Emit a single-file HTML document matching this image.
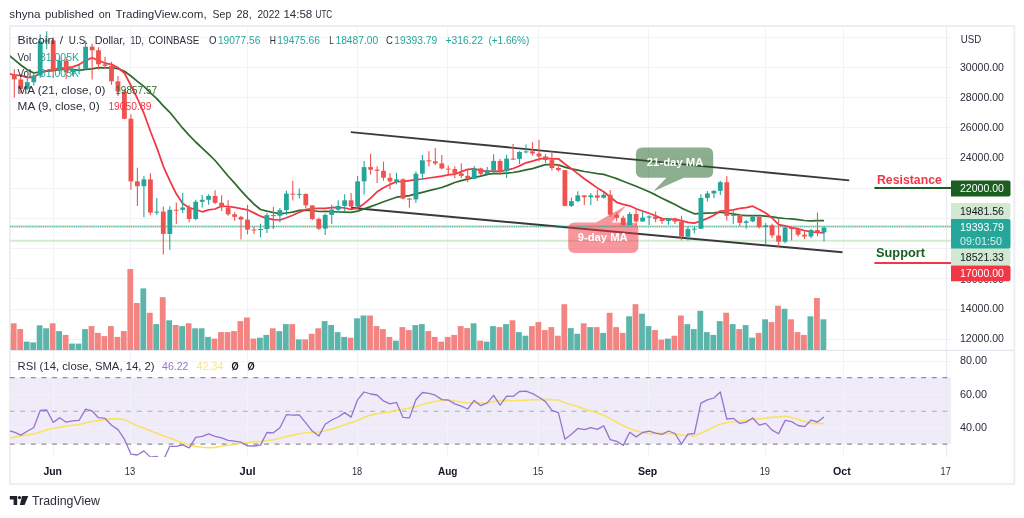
<!DOCTYPE html>
<html lang="en"><head><meta charset="utf-8"><title>BTCUSD chart</title>
<style>html,body{margin:0;padding:0;background:#fff}body{width:1024px;height:518px;overflow:hidden}svg{display:block}</style>
</head><body>
<svg width="1024" height="518" viewBox="0 0 1024 518" font-family='"Liberation Sans", sans-serif'>
<rect width="1024" height="518" fill="#fff"/>
<defs><clipPath id="cm"><rect x="10" y="27" width="937" height="323"/></clipPath><clipPath id="cr"><rect x="10" y="351" width="941" height="106"/></clipPath></defs>
<rect x="10" y="377.5" width="941" height="66.6" fill="#efebf9"/>
<line x1="53.5" y1="27" x2="53.5" y2="457" stroke="#f1f3f6" stroke-width="1"/>
<line x1="130.5" y1="27" x2="130.5" y2="457" stroke="#f1f3f6" stroke-width="1"/>
<line x1="247.5" y1="27" x2="247.5" y2="457" stroke="#f1f3f6" stroke-width="1"/>
<line x1="357.5" y1="27" x2="357.5" y2="457" stroke="#f1f3f6" stroke-width="1"/>
<line x1="447.5" y1="27" x2="447.5" y2="457" stroke="#f1f3f6" stroke-width="1"/>
<line x1="538.5" y1="27" x2="538.5" y2="457" stroke="#f1f3f6" stroke-width="1"/>
<line x1="648.5" y1="27" x2="648.5" y2="457" stroke="#f1f3f6" stroke-width="1"/>
<line x1="765.5" y1="27" x2="765.5" y2="457" stroke="#f1f3f6" stroke-width="1"/>
<line x1="843.5" y1="27" x2="843.5" y2="457" stroke="#f1f3f6" stroke-width="1"/>
<line x1="10" y1="339.5" x2="951" y2="339.5" stroke="#f1f3f6" stroke-width="1"/>
<line x1="10" y1="309.5" x2="951" y2="309.5" stroke="#f1f3f6" stroke-width="1"/>
<line x1="10" y1="278.5" x2="951" y2="278.5" stroke="#f1f3f6" stroke-width="1"/>
<line x1="10" y1="248.5" x2="951" y2="248.5" stroke="#f1f3f6" stroke-width="1"/>
<line x1="10" y1="218.5" x2="951" y2="218.5" stroke="#f1f3f6" stroke-width="1"/>
<line x1="10" y1="188.5" x2="951" y2="188.5" stroke="#f1f3f6" stroke-width="1"/>
<line x1="10" y1="158.5" x2="951" y2="158.5" stroke="#f1f3f6" stroke-width="1"/>
<line x1="10" y1="127.5" x2="951" y2="127.5" stroke="#f1f3f6" stroke-width="1"/>
<line x1="10" y1="97.5" x2="951" y2="97.5" stroke="#f1f3f6" stroke-width="1"/>
<line x1="10" y1="67.5" x2="951" y2="67.5" stroke="#f1f3f6" stroke-width="1"/>
<line x1="10" y1="37.5" x2="951" y2="37.5" stroke="#f1f3f6" stroke-width="1"/>
<line x1="10" y1="361.5" x2="951" y2="361.5" stroke="#f1f3f6" stroke-width="1" stroke-opacity="0.9"/>
<line x1="10" y1="394.5" x2="951" y2="394.5" stroke="#f1f3f6" stroke-width="1" stroke-opacity="0.9"/>
<line x1="10" y1="427.5" x2="951" y2="427.5" stroke="#f1f3f6" stroke-width="1" stroke-opacity="0.9"/>
<rect x="9.9" y="26" width="1004.4" height="458.1" fill="none" stroke="#eceef4" stroke-width="2"/>
<line x1="10" y1="350.4" x2="1014" y2="350.4" stroke="#e4e7ee" stroke-width="1.2"/>
<line x1="946.5" y1="27" x2="946.5" y2="457" stroke="#eaecf1" stroke-width="1.2"/>
<line x1="10" y1="226.4" x2="951" y2="226.4" stroke="#cbe4c7" stroke-width="2.3"/>
<line x1="10" y1="240.7" x2="951" y2="240.7" stroke="#d3e9d0" stroke-width="2"/>
<g clip-path="url(#cm)">
<rect x="4.4" y="333.2" width="5.8" height="17.0" fill="#f28482"/>
<rect x="10.8" y="323.3" width="5.8" height="26.9" fill="#f28482"/>
<rect x="17.3" y="329.1" width="5.8" height="21.1" fill="#f28482"/>
<rect x="23.8" y="341.6" width="5.8" height="8.6" fill="#5bb5aa"/>
<rect x="30.3" y="342.4" width="5.8" height="7.8" fill="#5bb5aa"/>
<rect x="36.7" y="325.3" width="5.8" height="24.9" fill="#5bb5aa"/>
<rect x="43.2" y="328.3" width="5.8" height="21.9" fill="#5bb5aa"/>
<rect x="49.7" y="323.3" width="5.8" height="26.9" fill="#f28482"/>
<rect x="56.2" y="331.1" width="5.8" height="19.1" fill="#5bb5aa"/>
<rect x="62.7" y="334.9" width="5.8" height="15.3" fill="#f28482"/>
<rect x="69.1" y="343.6" width="5.8" height="6.6" fill="#5bb5aa"/>
<rect x="75.6" y="343.6" width="5.8" height="6.6" fill="#5bb5aa"/>
<rect x="82.1" y="329.1" width="5.8" height="21.1" fill="#5bb5aa"/>
<rect x="88.6" y="326.1" width="5.8" height="24.1" fill="#f28482"/>
<rect x="95.0" y="332.9" width="5.8" height="17.3" fill="#f28482"/>
<rect x="101.5" y="336.1" width="5.8" height="14.1" fill="#f28482"/>
<rect x="108.0" y="326.1" width="5.8" height="24.1" fill="#f28482"/>
<rect x="114.5" y="336.9" width="5.8" height="13.3" fill="#f28482"/>
<rect x="120.9" y="331.1" width="5.8" height="19.1" fill="#f28482"/>
<rect x="127.4" y="269.0" width="5.8" height="81.2" fill="#f28482"/>
<rect x="133.9" y="303.0" width="5.8" height="47.2" fill="#f28482"/>
<rect x="140.4" y="288.4" width="5.8" height="61.8" fill="#5bb5aa"/>
<rect x="146.9" y="312.8" width="5.8" height="37.4" fill="#f28482"/>
<rect x="153.3" y="324.1" width="5.8" height="26.1" fill="#5bb5aa"/>
<rect x="159.8" y="297.2" width="5.8" height="53.0" fill="#f28482"/>
<rect x="166.3" y="320.3" width="5.8" height="29.9" fill="#5bb5aa"/>
<rect x="172.8" y="325.0" width="5.8" height="25.2" fill="#f28482"/>
<rect x="179.2" y="326.1" width="5.8" height="24.1" fill="#5bb5aa"/>
<rect x="185.7" y="323.3" width="5.8" height="26.9" fill="#f28482"/>
<rect x="192.2" y="328.3" width="5.8" height="21.9" fill="#5bb5aa"/>
<rect x="198.7" y="328.3" width="5.8" height="21.9" fill="#5bb5aa"/>
<rect x="205.1" y="336.9" width="5.8" height="13.3" fill="#5bb5aa"/>
<rect x="211.6" y="338.6" width="5.8" height="11.6" fill="#f28482"/>
<rect x="218.1" y="332.1" width="5.8" height="18.1" fill="#f28482"/>
<rect x="224.6" y="332.1" width="5.8" height="18.1" fill="#f28482"/>
<rect x="231.1" y="331.1" width="5.8" height="19.1" fill="#f28482"/>
<rect x="237.5" y="321.1" width="5.8" height="29.1" fill="#f28482"/>
<rect x="244.0" y="317.5" width="5.8" height="32.7" fill="#f28482"/>
<rect x="250.5" y="338.6" width="5.8" height="11.6" fill="#f28482"/>
<rect x="257.0" y="337.7" width="5.8" height="12.5" fill="#5bb5aa"/>
<rect x="263.4" y="334.9" width="5.8" height="15.3" fill="#5bb5aa"/>
<rect x="269.9" y="328.3" width="5.8" height="21.9" fill="#f28482"/>
<rect x="276.4" y="331.1" width="5.8" height="19.1" fill="#5bb5aa"/>
<rect x="282.9" y="324.1" width="5.8" height="26.1" fill="#5bb5aa"/>
<rect x="289.3" y="324.1" width="5.8" height="26.1" fill="#f28482"/>
<rect x="295.8" y="339.4" width="5.8" height="10.8" fill="#5bb5aa"/>
<rect x="302.3" y="339.4" width="5.8" height="10.8" fill="#f28482"/>
<rect x="308.8" y="333.8" width="5.8" height="16.4" fill="#f28482"/>
<rect x="315.3" y="328.3" width="5.8" height="21.9" fill="#f28482"/>
<rect x="321.7" y="321.1" width="5.8" height="29.1" fill="#5bb5aa"/>
<rect x="328.2" y="325.0" width="5.8" height="25.2" fill="#5bb5aa"/>
<rect x="334.7" y="332.1" width="5.8" height="18.1" fill="#5bb5aa"/>
<rect x="341.2" y="336.9" width="5.8" height="13.3" fill="#5bb5aa"/>
<rect x="347.6" y="337.7" width="5.8" height="12.5" fill="#f28482"/>
<rect x="354.1" y="318.3" width="5.8" height="31.9" fill="#5bb5aa"/>
<rect x="360.6" y="315.5" width="5.8" height="34.7" fill="#5bb5aa"/>
<rect x="367.1" y="315.5" width="5.8" height="34.7" fill="#f28482"/>
<rect x="373.6" y="326.1" width="5.8" height="24.1" fill="#f28482"/>
<rect x="380.0" y="329.1" width="5.8" height="21.1" fill="#f28482"/>
<rect x="386.5" y="336.9" width="5.8" height="13.3" fill="#f28482"/>
<rect x="393.0" y="340.7" width="5.8" height="9.5" fill="#5bb5aa"/>
<rect x="399.5" y="327.1" width="5.8" height="23.1" fill="#f28482"/>
<rect x="405.9" y="330.1" width="5.8" height="20.1" fill="#f28482"/>
<rect x="412.4" y="325.1" width="5.8" height="25.1" fill="#5bb5aa"/>
<rect x="418.9" y="324.1" width="5.8" height="26.1" fill="#5bb5aa"/>
<rect x="425.4" y="331.1" width="5.8" height="19.1" fill="#f28482"/>
<rect x="431.8" y="336.9" width="5.8" height="13.3" fill="#f28482"/>
<rect x="438.3" y="341.6" width="5.8" height="8.6" fill="#f28482"/>
<rect x="444.8" y="336.9" width="5.8" height="13.3" fill="#f28482"/>
<rect x="451.3" y="334.9" width="5.8" height="15.3" fill="#f28482"/>
<rect x="457.8" y="326.1" width="5.8" height="24.1" fill="#f28482"/>
<rect x="464.2" y="328.1" width="5.8" height="22.1" fill="#f28482"/>
<rect x="470.7" y="323.3" width="5.8" height="26.9" fill="#5bb5aa"/>
<rect x="477.2" y="340.7" width="5.8" height="9.5" fill="#f28482"/>
<rect x="483.7" y="341.6" width="5.8" height="8.6" fill="#5bb5aa"/>
<rect x="490.1" y="326.1" width="5.8" height="24.1" fill="#5bb5aa"/>
<rect x="496.6" y="327.1" width="5.8" height="23.1" fill="#f28482"/>
<rect x="503.1" y="324.1" width="5.8" height="26.1" fill="#5bb5aa"/>
<rect x="509.6" y="320.3" width="5.8" height="29.9" fill="#f28482"/>
<rect x="516.0" y="332.1" width="5.8" height="18.1" fill="#5bb5aa"/>
<rect x="522.5" y="335.7" width="5.8" height="14.5" fill="#5bb5aa"/>
<rect x="529.0" y="326.1" width="5.8" height="24.1" fill="#f28482"/>
<rect x="535.5" y="322.1" width="5.8" height="28.1" fill="#f28482"/>
<rect x="542.0" y="330.1" width="5.8" height="20.1" fill="#f28482"/>
<rect x="548.4" y="327.1" width="5.8" height="23.1" fill="#f28482"/>
<rect x="554.9" y="335.7" width="5.8" height="14.5" fill="#f28482"/>
<rect x="561.4" y="304.2" width="5.8" height="46.0" fill="#f28482"/>
<rect x="567.9" y="328.1" width="5.8" height="22.1" fill="#5bb5aa"/>
<rect x="574.3" y="333.8" width="5.8" height="16.4" fill="#5bb5aa"/>
<rect x="580.8" y="323.3" width="5.8" height="26.9" fill="#f28482"/>
<rect x="587.3" y="327.1" width="5.8" height="23.1" fill="#5bb5aa"/>
<rect x="593.8" y="327.1" width="5.8" height="23.1" fill="#f28482"/>
<rect x="600.2" y="332.9" width="5.8" height="17.3" fill="#5bb5aa"/>
<rect x="606.7" y="312.8" width="5.8" height="37.4" fill="#f28482"/>
<rect x="613.2" y="327.1" width="5.8" height="23.1" fill="#f28482"/>
<rect x="619.7" y="332.9" width="5.8" height="17.3" fill="#f28482"/>
<rect x="626.2" y="316.3" width="5.8" height="33.9" fill="#5bb5aa"/>
<rect x="632.6" y="304.2" width="5.8" height="46.0" fill="#f28482"/>
<rect x="639.1" y="313.7" width="5.8" height="36.5" fill="#5bb5aa"/>
<rect x="645.6" y="326.1" width="5.8" height="24.1" fill="#5bb5aa"/>
<rect x="652.1" y="330.1" width="5.8" height="20.1" fill="#f28482"/>
<rect x="658.5" y="339.6" width="5.8" height="10.6" fill="#f28482"/>
<rect x="665.0" y="338.6" width="5.8" height="11.6" fill="#5bb5aa"/>
<rect x="671.5" y="335.7" width="5.8" height="14.5" fill="#f28482"/>
<rect x="678.0" y="315.5" width="5.8" height="34.7" fill="#f28482"/>
<rect x="684.4" y="324.1" width="5.8" height="26.1" fill="#5bb5aa"/>
<rect x="690.9" y="329.1" width="5.8" height="21.1" fill="#5bb5aa"/>
<rect x="697.4" y="310.8" width="5.8" height="39.4" fill="#5bb5aa"/>
<rect x="703.9" y="332.1" width="5.8" height="18.1" fill="#5bb5aa"/>
<rect x="710.4" y="334.9" width="5.8" height="15.3" fill="#5bb5aa"/>
<rect x="716.8" y="321.1" width="5.8" height="29.1" fill="#5bb5aa"/>
<rect x="723.3" y="312.7" width="5.8" height="37.5" fill="#f28482"/>
<rect x="729.8" y="324.1" width="5.8" height="26.1" fill="#5bb5aa"/>
<rect x="736.3" y="329.1" width="5.8" height="21.1" fill="#f28482"/>
<rect x="742.7" y="325.1" width="5.8" height="25.1" fill="#5bb5aa"/>
<rect x="749.2" y="337.7" width="5.8" height="12.5" fill="#5bb5aa"/>
<rect x="755.7" y="332.9" width="5.8" height="17.3" fill="#f28482"/>
<rect x="762.2" y="319.3" width="5.8" height="30.9" fill="#5bb5aa"/>
<rect x="768.6" y="322.1" width="5.8" height="28.1" fill="#f28482"/>
<rect x="775.1" y="305.8" width="5.8" height="44.4" fill="#f28482"/>
<rect x="781.6" y="308.8" width="5.8" height="41.4" fill="#5bb5aa"/>
<rect x="788.1" y="319.3" width="5.8" height="30.9" fill="#f28482"/>
<rect x="794.6" y="332.1" width="5.8" height="18.1" fill="#f28482"/>
<rect x="801.0" y="334.9" width="5.8" height="15.3" fill="#f28482"/>
<rect x="807.5" y="316.3" width="5.8" height="33.9" fill="#5bb5aa"/>
<rect x="814.0" y="298.0" width="5.8" height="52.2" fill="#f28482"/>
<rect x="820.5" y="319.3" width="5.8" height="30.9" fill="#5bb5aa"/>
</g>
<g clip-path="url(#cm)">
<line x1="350.8" y1="132.1" x2="849.3" y2="180.4" stroke="#3a3a3c" stroke-width="1.9"/>
<line x1="351" y1="207.8" x2="842.5" y2="252.3" stroke="#3a3a3c" stroke-width="1.9"/>
</g>
<path d="M642.4 147.4 H706.7 Q713.2 147.4 713.2 153.9 V171.2 Q713.2 177.7 706.7 177.7 H683.8 L653.1 191.4 L666.5 177.7 H642.4 Q635.9 177.7 635.9 171.2 V153.9 Q635.9 147.4 642.4 147.4 Z" fill="#1b5e20" fill-opacity="0.5"/>
<text x="646.8" y="165.5" font-size="11.4" font-weight="bold" fill="#fff" textLength="56.7" lengthAdjust="spacingAndGlyphs">21-day MA</text>
<path d="M574.7 222.4 H596.0 L626.2 205.6 L611.8 222.4 H631.9 Q638.4 222.4 638.4 228.9 V246.4 Q638.4 252.9 631.9 252.9 H574.7 Q568.2 252.9 568.2 246.4 V228.9 Q568.2 222.4 574.7 222.4 Z" fill="#f23645" fill-opacity="0.52"/>
<text x="577.8" y="241.1" font-size="11.4" font-weight="bold" fill="#fff" textLength="49.8" lengthAdjust="spacingAndGlyphs">9-day MA</text>
<line x1="10" y1="226.7" x2="951" y2="226.7" stroke="#26a69a" stroke-opacity="0.75" stroke-width="1.2" stroke-dasharray="1 1.2"/>
<g clip-path="url(#cm)">
<polyline points="7.9,54.4 14.3,59.7 20.8,65.0 27.3,69.7 33.8,73.0 40.2,71.8 46.7,71.2 53.2,70.6 59.7,69.5 66.2,69.2 72.6,69.4 79.1,70.4 85.6,69.3 92.1,68.8 98.5,67.7 105.0,67.8 111.5,67.9 118.0,68.6 124.4,71.3 130.9,76.0 137.4,81.4 143.9,86.4 150.4,92.8 156.8,98.6 163.3,105.9 169.8,112.3 176.3,120.3 182.7,128.2 189.2,135.3 195.7,142.0 202.2,148.1 208.6,154.1 215.1,160.5 221.6,168.2 228.1,176.0 234.6,183.2 241.0,190.6 247.5,197.6 254.0,204.2 260.5,209.5 266.9,211.1 273.4,212.5 279.9,213.9 286.4,213.0 292.8,212.2 299.3,210.3 305.8,210.1 312.3,210.5 318.8,211.5 325.2,211.3 331.7,211.7 338.2,212.0 344.7,212.2 351.1,212.4 357.6,211.1 364.1,208.9 370.6,206.6 377.1,204.3 383.5,201.8 390.0,199.5 396.5,197.2 403.0,196.4 409.4,195.6 415.9,193.9 422.4,192.3 428.9,190.7 435.3,189.2 441.8,187.5 448.3,185.1 454.8,182.5 461.3,180.6 467.7,179.1 474.2,177.4 480.7,176.1 487.2,174.4 493.6,173.4 500.1,173.6 506.6,173.1 513.1,172.5 519.5,171.3 526.0,169.8 532.5,168.6 539.0,166.6 545.5,164.7 551.9,164.5 558.4,164.9 564.9,167.1 571.4,168.9 577.8,170.1 584.3,171.5 590.8,172.5 597.3,173.6 603.7,174.3 610.2,176.5 616.7,178.6 623.2,181.2 629.7,183.8 636.1,186.2 642.6,189.0 649.1,191.7 655.6,194.9 662.0,198.3 668.5,201.4 675.0,204.5 681.5,208.1 687.9,211.0 694.4,213.8 700.9,213.4 707.4,213.1 713.9,212.8 720.3,212.1 726.8,213.1 733.3,213.9 739.8,215.2 746.2,215.6 752.7,215.5 759.2,215.6 765.7,216.1 772.1,216.8 778.6,217.9 785.1,218.5 791.6,218.9 798.1,219.6 804.5,220.5 811.0,220.9 817.5,220.7 824.0,220.6" fill="none" stroke="#2e6b2e" stroke-width="1.75" stroke-linejoin="round"/>
<polyline points="7.9,73.2 14.3,75.2 20.8,75.4 27.3,77.6 33.8,77.1 40.2,73.2 46.7,70.7 53.2,69.5 59.7,68.2 66.2,67.9 72.6,66.8 79.1,64.6 85.6,60.6 92.1,57.8 98.5,60.4 105.0,63.2 111.5,64.4 118.0,67.8 124.4,73.0 130.9,85.5 137.4,98.5 143.9,113.3 150.4,131.3 156.8,147.6 163.3,166.3 169.8,180.6 176.3,193.8 182.7,203.6 189.2,207.8 195.7,209.5 202.2,211.8 208.6,209.9 215.1,209.0 221.6,206.0 228.1,206.5 234.6,207.3 241.0,208.6 247.5,209.8 254.0,212.9 260.5,216.2 266.9,218.3 273.4,219.7 279.9,220.0 286.4,217.7 292.8,215.2 299.3,212.3 305.8,209.7 312.3,208.5 318.8,208.4 325.2,208.4 331.7,207.7 338.2,207.3 344.7,208.0 351.1,209.4 357.6,208.0 364.1,203.7 370.6,198.2 377.1,191.8 383.5,187.7 390.0,184.5 396.5,181.6 403.0,181.4 409.4,180.6 415.9,179.7 422.4,179.0 428.9,178.0 435.3,177.2 441.8,176.2 448.3,174.8 454.8,174.2 461.3,171.6 467.7,169.4 474.2,168.8 480.7,170.3 487.2,171.3 493.6,171.0 500.1,171.3 506.6,170.1 513.1,168.5 519.5,165.9 526.0,162.8 532.5,161.1 539.0,159.2 545.5,158.1 551.9,158.9 558.4,158.8 564.9,164.0 571.4,168.7 577.8,173.6 584.3,178.7 590.8,183.3 597.3,187.9 603.7,191.8 610.2,197.0 616.7,202.3 623.2,204.4 629.7,205.8 636.1,208.7 642.6,211.0 649.1,213.3 655.6,215.7 662.0,218.6 668.5,219.0 675.0,219.4 681.5,220.7 687.9,222.4 694.4,223.2 700.9,221.0 707.4,218.4 713.9,215.3 720.3,211.0 726.8,210.7 733.3,209.9 739.8,208.4 746.2,207.6 752.7,206.2 759.2,209.5 765.7,213.0 772.1,218.0 778.6,224.6 785.1,225.9 791.6,227.5 798.1,228.8 804.5,230.5 811.0,231.9 817.5,232.5 824.0,232.8" fill="none" stroke="#f23645" stroke-width="1.75" stroke-linejoin="round"/>
<line x1="7.9" y1="64.4" x2="7.9" y2="78.0" stroke="#ef5350" stroke-width="1.1"/>
<rect x="5.5" y="72.8" width="4.8" height="1.5" fill="#ef5350"/>
<line x1="14.3" y1="68.9" x2="14.3" y2="97.6" stroke="#ef5350" stroke-width="1.1"/>
<rect x="11.9" y="74.3" width="4.8" height="5.1" fill="#ef5350"/>
<line x1="20.8" y1="76.5" x2="20.8" y2="93.8" stroke="#ef5350" stroke-width="1.1"/>
<rect x="18.4" y="79.5" width="4.8" height="9.4" fill="#ef5350"/>
<line x1="27.3" y1="78.7" x2="27.3" y2="90.1" stroke="#26a69a" stroke-width="1.1"/>
<rect x="24.9" y="82.2" width="4.8" height="6.6" fill="#26a69a"/>
<line x1="33.8" y1="74.0" x2="33.8" y2="85.5" stroke="#26a69a" stroke-width="1.1"/>
<rect x="31.4" y="75.6" width="4.8" height="6.6" fill="#26a69a"/>
<line x1="40.2" y1="34.2" x2="40.2" y2="78.0" stroke="#26a69a" stroke-width="1.1"/>
<rect x="37.8" y="41.4" width="4.8" height="34.1" fill="#26a69a"/>
<line x1="46.7" y1="31.2" x2="46.7" y2="49.3" stroke="#26a69a" stroke-width="1.1"/>
<rect x="44.3" y="40.4" width="4.8" height="1.1" fill="#26a69a"/>
<line x1="53.2" y1="37.5" x2="53.2" y2="78.0" stroke="#ef5350" stroke-width="1.1"/>
<rect x="50.8" y="40.4" width="4.8" height="30.2" fill="#ef5350"/>
<line x1="59.7" y1="56.8" x2="59.7" y2="74.0" stroke="#26a69a" stroke-width="1.1"/>
<rect x="57.3" y="60.6" width="4.8" height="10.0" fill="#26a69a"/>
<line x1="66.2" y1="57.0" x2="66.2" y2="78.7" stroke="#ef5350" stroke-width="1.1"/>
<rect x="63.8" y="60.6" width="4.8" height="11.5" fill="#ef5350"/>
<line x1="72.6" y1="67.9" x2="72.6" y2="75.6" stroke="#26a69a" stroke-width="1.1"/>
<rect x="70.2" y="69.5" width="4.8" height="2.6" fill="#26a69a"/>
<line x1="79.1" y1="64.7" x2="79.1" y2="74.6" stroke="#26a69a" stroke-width="1.1"/>
<rect x="76.7" y="68.8" width="4.8" height="1.0" fill="#26a69a"/>
<line x1="85.6" y1="40.7" x2="85.6" y2="69.2" stroke="#26a69a" stroke-width="1.1"/>
<rect x="83.2" y="46.7" width="4.8" height="22.0" fill="#26a69a"/>
<line x1="92.1" y1="43.7" x2="92.1" y2="79.5" stroke="#ef5350" stroke-width="1.1"/>
<rect x="89.7" y="46.7" width="4.8" height="3.6" fill="#ef5350"/>
<line x1="98.5" y1="47.3" x2="98.5" y2="69.7" stroke="#ef5350" stroke-width="1.1"/>
<rect x="96.1" y="50.3" width="4.8" height="14.0" fill="#ef5350"/>
<line x1="105.0" y1="56.8" x2="105.0" y2="68.9" stroke="#ef5350" stroke-width="1.1"/>
<rect x="102.6" y="64.4" width="4.8" height="1.5" fill="#ef5350"/>
<line x1="111.5" y1="61.7" x2="111.5" y2="84.8" stroke="#ef5350" stroke-width="1.1"/>
<rect x="109.1" y="65.9" width="4.8" height="15.4" fill="#ef5350"/>
<line x1="118.0" y1="75.9" x2="118.0" y2="96.1" stroke="#ef5350" stroke-width="1.1"/>
<rect x="115.6" y="81.3" width="4.8" height="10.3" fill="#ef5350"/>
<line x1="124.4" y1="89.3" x2="124.4" y2="119.3" stroke="#ef5350" stroke-width="1.1"/>
<rect x="122.0" y="91.6" width="4.8" height="27.2" fill="#ef5350"/>
<line x1="130.9" y1="114.2" x2="130.9" y2="189.7" stroke="#ef5350" stroke-width="1.1"/>
<rect x="128.5" y="118.7" width="4.8" height="62.7" fill="#ef5350"/>
<line x1="137.4" y1="167.7" x2="137.4" y2="205.9" stroke="#ef5350" stroke-width="1.1"/>
<rect x="135.0" y="181.4" width="4.8" height="4.8" fill="#ef5350"/>
<line x1="143.9" y1="176.1" x2="143.9" y2="217.3" stroke="#26a69a" stroke-width="1.1"/>
<rect x="141.5" y="179.4" width="4.8" height="6.8" fill="#26a69a"/>
<line x1="150.4" y1="173.3" x2="150.4" y2="215.2" stroke="#ef5350" stroke-width="1.1"/>
<rect x="148.0" y="179.4" width="4.8" height="33.2" fill="#ef5350"/>
<line x1="156.8" y1="197.9" x2="156.8" y2="214.9" stroke="#26a69a" stroke-width="1.1"/>
<rect x="154.4" y="211.6" width="4.8" height="1.1" fill="#26a69a"/>
<line x1="163.3" y1="206.5" x2="163.3" y2="254.6" stroke="#ef5350" stroke-width="1.1"/>
<rect x="160.9" y="211.6" width="4.8" height="22.3" fill="#ef5350"/>
<line x1="169.8" y1="206.3" x2="169.8" y2="249.7" stroke="#26a69a" stroke-width="1.1"/>
<rect x="167.4" y="209.8" width="4.8" height="24.2" fill="#26a69a"/>
<line x1="176.3" y1="202.5" x2="176.3" y2="224.0" stroke="#ef5350" stroke-width="1.1"/>
<rect x="173.9" y="209.8" width="4.8" height="1.0" fill="#ef5350"/>
<line x1="182.7" y1="192.7" x2="182.7" y2="213.1" stroke="#26a69a" stroke-width="1.1"/>
<rect x="180.3" y="207.5" width="4.8" height="2.4" fill="#26a69a"/>
<line x1="189.2" y1="205.0" x2="189.2" y2="222.2" stroke="#ef5350" stroke-width="1.1"/>
<rect x="186.8" y="207.5" width="4.8" height="11.5" fill="#ef5350"/>
<line x1="195.7" y1="199.8" x2="195.7" y2="220.2" stroke="#26a69a" stroke-width="1.1"/>
<rect x="193.3" y="201.8" width="4.8" height="17.2" fill="#26a69a"/>
<line x1="202.2" y1="195.0" x2="202.2" y2="207.5" stroke="#26a69a" stroke-width="1.1"/>
<rect x="199.8" y="199.8" width="4.8" height="2.0" fill="#26a69a"/>
<line x1="208.6" y1="194.2" x2="208.6" y2="204.8" stroke="#26a69a" stroke-width="1.1"/>
<rect x="206.2" y="195.9" width="4.8" height="3.9" fill="#26a69a"/>
<line x1="215.1" y1="190.2" x2="215.1" y2="204.1" stroke="#ef5350" stroke-width="1.1"/>
<rect x="212.7" y="195.9" width="4.8" height="6.9" fill="#ef5350"/>
<line x1="221.6" y1="195.3" x2="221.6" y2="210.9" stroke="#ef5350" stroke-width="1.1"/>
<rect x="219.2" y="202.8" width="4.8" height="4.5" fill="#ef5350"/>
<line x1="228.1" y1="200.3" x2="228.1" y2="215.8" stroke="#ef5350" stroke-width="1.1"/>
<rect x="225.7" y="207.4" width="4.8" height="6.9" fill="#ef5350"/>
<line x1="234.6" y1="212.2" x2="234.6" y2="220.8" stroke="#ef5350" stroke-width="1.1"/>
<rect x="232.2" y="214.3" width="4.8" height="2.6" fill="#ef5350"/>
<line x1="241.0" y1="216.1" x2="241.0" y2="239.5" stroke="#ef5350" stroke-width="1.1"/>
<rect x="238.6" y="216.9" width="4.8" height="2.7" fill="#ef5350"/>
<line x1="247.5" y1="204.8" x2="247.5" y2="234.3" stroke="#ef5350" stroke-width="1.1"/>
<rect x="245.1" y="219.6" width="4.8" height="10.0" fill="#ef5350"/>
<line x1="254.0" y1="226.7" x2="254.0" y2="234.0" stroke="#ef5350" stroke-width="1.1"/>
<rect x="251.6" y="229.6" width="4.8" height="1.0" fill="#ef5350"/>
<line x1="260.5" y1="223.7" x2="260.5" y2="237.3" stroke="#26a69a" stroke-width="1.1"/>
<rect x="258.1" y="229.0" width="4.8" height="1.0" fill="#26a69a"/>
<line x1="266.9" y1="213.1" x2="266.9" y2="232.9" stroke="#26a69a" stroke-width="1.1"/>
<rect x="264.5" y="215.1" width="4.8" height="13.9" fill="#26a69a"/>
<line x1="273.4" y1="207.1" x2="273.4" y2="229.0" stroke="#ef5350" stroke-width="1.1"/>
<rect x="271.0" y="215.1" width="4.8" height="1.0" fill="#ef5350"/>
<line x1="279.9" y1="208.1" x2="279.9" y2="222.2" stroke="#26a69a" stroke-width="1.1"/>
<rect x="277.5" y="210.1" width="4.8" height="5.6" fill="#26a69a"/>
<line x1="286.4" y1="190.5" x2="286.4" y2="214.9" stroke="#26a69a" stroke-width="1.1"/>
<rect x="284.0" y="193.6" width="4.8" height="16.5" fill="#26a69a"/>
<line x1="292.8" y1="180.7" x2="292.8" y2="200.4" stroke="#ef5350" stroke-width="1.1"/>
<rect x="290.4" y="193.6" width="4.8" height="1.0" fill="#ef5350"/>
<line x1="299.3" y1="188.5" x2="299.3" y2="198.5" stroke="#26a69a" stroke-width="1.1"/>
<rect x="296.9" y="193.9" width="4.8" height="1.0" fill="#26a69a"/>
<line x1="305.8" y1="193.6" x2="305.8" y2="208.6" stroke="#ef5350" stroke-width="1.1"/>
<rect x="303.4" y="193.9" width="4.8" height="11.5" fill="#ef5350"/>
<line x1="312.3" y1="205.3" x2="312.3" y2="220.2" stroke="#ef5350" stroke-width="1.1"/>
<rect x="309.9" y="205.4" width="4.8" height="13.6" fill="#ef5350"/>
<line x1="318.8" y1="217.5" x2="318.8" y2="229.9" stroke="#ef5350" stroke-width="1.1"/>
<rect x="316.4" y="219.0" width="4.8" height="9.7" fill="#ef5350"/>
<line x1="325.2" y1="213.4" x2="325.2" y2="235.0" stroke="#26a69a" stroke-width="1.1"/>
<rect x="322.8" y="214.9" width="4.8" height="13.7" fill="#26a69a"/>
<line x1="331.7" y1="204.8" x2="331.7" y2="224.1" stroke="#26a69a" stroke-width="1.1"/>
<rect x="329.3" y="209.6" width="4.8" height="5.3" fill="#26a69a"/>
<line x1="338.2" y1="200.3" x2="338.2" y2="212.7" stroke="#26a69a" stroke-width="1.1"/>
<rect x="335.8" y="205.9" width="4.8" height="3.8" fill="#26a69a"/>
<line x1="344.7" y1="194.2" x2="344.7" y2="211.2" stroke="#26a69a" stroke-width="1.1"/>
<rect x="342.3" y="200.3" width="4.8" height="5.6" fill="#26a69a"/>
<line x1="351.1" y1="193.0" x2="351.1" y2="207.1" stroke="#ef5350" stroke-width="1.1"/>
<rect x="348.7" y="200.3" width="4.8" height="6.2" fill="#ef5350"/>
<line x1="357.6" y1="176.1" x2="357.6" y2="206.9" stroke="#26a69a" stroke-width="1.1"/>
<rect x="355.2" y="181.4" width="4.8" height="25.1" fill="#26a69a"/>
<line x1="364.1" y1="161.0" x2="364.1" y2="194.5" stroke="#26a69a" stroke-width="1.1"/>
<rect x="361.7" y="167.1" width="4.8" height="14.3" fill="#26a69a"/>
<line x1="370.6" y1="153.8" x2="370.6" y2="174.6" stroke="#ef5350" stroke-width="1.1"/>
<rect x="368.2" y="167.1" width="4.8" height="2.6" fill="#ef5350"/>
<line x1="377.1" y1="166.3" x2="377.1" y2="182.9" stroke="#ef5350" stroke-width="1.1"/>
<rect x="374.7" y="169.6" width="4.8" height="1.2" fill="#ef5350"/>
<line x1="383.5" y1="161.6" x2="383.5" y2="180.7" stroke="#ef5350" stroke-width="1.1"/>
<rect x="381.1" y="170.8" width="4.8" height="6.9" fill="#ef5350"/>
<line x1="390.0" y1="173.1" x2="390.0" y2="189.3" stroke="#ef5350" stroke-width="1.1"/>
<rect x="387.6" y="177.8" width="4.8" height="3.5" fill="#ef5350"/>
<line x1="396.5" y1="172.8" x2="396.5" y2="184.3" stroke="#26a69a" stroke-width="1.1"/>
<rect x="394.1" y="179.3" width="4.8" height="2.0" fill="#26a69a"/>
<line x1="403.0" y1="178.2" x2="403.0" y2="199.5" stroke="#ef5350" stroke-width="1.1"/>
<rect x="400.6" y="179.3" width="4.8" height="19.3" fill="#ef5350"/>
<line x1="409.4" y1="198.0" x2="409.4" y2="207.8" stroke="#ef5350" stroke-width="1.1"/>
<rect x="407.0" y="198.6" width="4.8" height="1.0" fill="#ef5350"/>
<line x1="415.9" y1="171.6" x2="415.9" y2="202.7" stroke="#26a69a" stroke-width="1.1"/>
<rect x="413.5" y="173.7" width="4.8" height="25.7" fill="#26a69a"/>
<line x1="422.4" y1="155.0" x2="422.4" y2="179.3" stroke="#26a69a" stroke-width="1.1"/>
<rect x="420.0" y="160.3" width="4.8" height="13.4" fill="#26a69a"/>
<line x1="428.9" y1="151.2" x2="428.9" y2="166.6" stroke="#ef5350" stroke-width="1.1"/>
<rect x="426.5" y="160.3" width="4.8" height="1.1" fill="#ef5350"/>
<line x1="435.3" y1="147.9" x2="435.3" y2="165.2" stroke="#ef5350" stroke-width="1.1"/>
<rect x="432.9" y="161.3" width="4.8" height="2.1" fill="#ef5350"/>
<line x1="441.8" y1="155.0" x2="441.8" y2="169.6" stroke="#ef5350" stroke-width="1.1"/>
<rect x="439.4" y="163.4" width="4.8" height="5.1" fill="#ef5350"/>
<line x1="448.3" y1="165.4" x2="448.3" y2="175.4" stroke="#ef5350" stroke-width="1.1"/>
<rect x="445.9" y="168.6" width="4.8" height="1.0" fill="#ef5350"/>
<line x1="454.8" y1="166.2" x2="454.8" y2="178.2" stroke="#ef5350" stroke-width="1.1"/>
<rect x="452.4" y="169.0" width="4.8" height="4.2" fill="#ef5350"/>
<line x1="461.3" y1="163.3" x2="461.3" y2="177.9" stroke="#ef5350" stroke-width="1.1"/>
<rect x="458.9" y="173.3" width="4.8" height="2.6" fill="#ef5350"/>
<line x1="467.7" y1="169.8" x2="467.7" y2="182.2" stroke="#ef5350" stroke-width="1.1"/>
<rect x="465.3" y="175.8" width="4.8" height="3.0" fill="#ef5350"/>
<line x1="474.2" y1="166.0" x2="474.2" y2="179.3" stroke="#26a69a" stroke-width="1.1"/>
<rect x="471.8" y="168.4" width="4.8" height="10.4" fill="#26a69a"/>
<line x1="480.7" y1="167.8" x2="480.7" y2="175.4" stroke="#ef5350" stroke-width="1.1"/>
<rect x="478.3" y="168.4" width="4.8" height="5.4" fill="#ef5350"/>
<line x1="487.2" y1="167.1" x2="487.2" y2="175.4" stroke="#26a69a" stroke-width="1.1"/>
<rect x="484.8" y="170.4" width="4.8" height="3.5" fill="#26a69a"/>
<line x1="493.6" y1="154.2" x2="493.6" y2="170.7" stroke="#26a69a" stroke-width="1.1"/>
<rect x="491.2" y="160.9" width="4.8" height="9.5" fill="#26a69a"/>
<line x1="500.1" y1="159.1" x2="500.1" y2="175.1" stroke="#ef5350" stroke-width="1.1"/>
<rect x="497.7" y="160.9" width="4.8" height="10.0" fill="#ef5350"/>
<line x1="506.6" y1="154.7" x2="506.6" y2="178.1" stroke="#26a69a" stroke-width="1.1"/>
<rect x="504.2" y="158.6" width="4.8" height="12.2" fill="#26a69a"/>
<line x1="513.1" y1="144.1" x2="513.1" y2="160.1" stroke="#ef5350" stroke-width="1.1"/>
<rect x="510.7" y="158.6" width="4.8" height="1.0" fill="#ef5350"/>
<line x1="519.5" y1="151.1" x2="519.5" y2="164.0" stroke="#26a69a" stroke-width="1.1"/>
<rect x="517.1" y="152.0" width="4.8" height="6.9" fill="#26a69a"/>
<line x1="526.0" y1="144.6" x2="526.0" y2="153.6" stroke="#26a69a" stroke-width="1.1"/>
<rect x="523.6" y="151.4" width="4.8" height="1.0" fill="#26a69a"/>
<line x1="532.5" y1="142.1" x2="532.5" y2="155.7" stroke="#ef5350" stroke-width="1.1"/>
<rect x="530.1" y="151.4" width="4.8" height="2.1" fill="#ef5350"/>
<line x1="539.0" y1="139.7" x2="539.0" y2="161.5" stroke="#ef5350" stroke-width="1.1"/>
<rect x="536.6" y="153.5" width="4.8" height="3.0" fill="#ef5350"/>
<line x1="545.5" y1="154.2" x2="545.5" y2="162.8" stroke="#ef5350" stroke-width="1.1"/>
<rect x="543.1" y="156.5" width="4.8" height="3.6" fill="#ef5350"/>
<line x1="551.9" y1="151.2" x2="551.9" y2="170.4" stroke="#ef5350" stroke-width="1.1"/>
<rect x="549.5" y="160.1" width="4.8" height="7.9" fill="#ef5350"/>
<line x1="558.4" y1="164.0" x2="558.4" y2="171.4" stroke="#ef5350" stroke-width="1.1"/>
<rect x="556.0" y="168.0" width="4.8" height="2.1" fill="#ef5350"/>
<line x1="564.9" y1="169.9" x2="564.9" y2="206.6" stroke="#ef5350" stroke-width="1.1"/>
<rect x="562.5" y="170.1" width="4.8" height="35.8" fill="#ef5350"/>
<line x1="571.4" y1="197.6" x2="571.4" y2="206.9" stroke="#26a69a" stroke-width="1.1"/>
<rect x="569.0" y="201.2" width="4.8" height="4.7" fill="#26a69a"/>
<line x1="577.8" y1="191.2" x2="577.8" y2="202.2" stroke="#26a69a" stroke-width="1.1"/>
<rect x="575.4" y="195.4" width="4.8" height="5.7" fill="#26a69a"/>
<line x1="584.3" y1="195.0" x2="584.3" y2="205.0" stroke="#ef5350" stroke-width="1.1"/>
<rect x="581.9" y="195.4" width="4.8" height="1.8" fill="#ef5350"/>
<line x1="590.8" y1="192.9" x2="590.8" y2="205.0" stroke="#26a69a" stroke-width="1.1"/>
<rect x="588.4" y="195.4" width="4.8" height="1.8" fill="#26a69a"/>
<line x1="597.3" y1="189.7" x2="597.3" y2="201.0" stroke="#ef5350" stroke-width="1.1"/>
<rect x="594.9" y="195.4" width="4.8" height="2.3" fill="#ef5350"/>
<line x1="603.7" y1="190.9" x2="603.7" y2="198.6" stroke="#26a69a" stroke-width="1.1"/>
<rect x="601.3" y="194.8" width="4.8" height="2.9" fill="#26a69a"/>
<line x1="610.2" y1="190.0" x2="610.2" y2="216.9" stroke="#ef5350" stroke-width="1.1"/>
<rect x="607.8" y="194.8" width="4.8" height="19.9" fill="#ef5350"/>
<line x1="616.7" y1="212.4" x2="616.7" y2="221.4" stroke="#ef5350" stroke-width="1.1"/>
<rect x="614.3" y="214.8" width="4.8" height="3.0" fill="#ef5350"/>
<line x1="623.2" y1="215.7" x2="623.2" y2="225.8" stroke="#ef5350" stroke-width="1.1"/>
<rect x="620.8" y="217.8" width="4.8" height="7.4" fill="#ef5350"/>
<line x1="629.7" y1="211.9" x2="629.7" y2="225.3" stroke="#26a69a" stroke-width="1.1"/>
<rect x="627.3" y="214.0" width="4.8" height="11.2" fill="#26a69a"/>
<line x1="636.1" y1="209.6" x2="636.1" y2="225.3" stroke="#ef5350" stroke-width="1.1"/>
<rect x="633.7" y="214.0" width="4.8" height="7.5" fill="#ef5350"/>
<line x1="642.6" y1="211.0" x2="642.6" y2="221.6" stroke="#26a69a" stroke-width="1.1"/>
<rect x="640.2" y="217.6" width="4.8" height="3.9" fill="#26a69a"/>
<line x1="649.1" y1="215.2" x2="649.1" y2="225.0" stroke="#26a69a" stroke-width="1.1"/>
<rect x="646.7" y="216.4" width="4.8" height="1.2" fill="#26a69a"/>
<line x1="655.6" y1="211.6" x2="655.6" y2="222.2" stroke="#ef5350" stroke-width="1.1"/>
<rect x="653.2" y="216.4" width="4.8" height="2.7" fill="#ef5350"/>
<line x1="662.0" y1="217.6" x2="662.0" y2="223.7" stroke="#ef5350" stroke-width="1.1"/>
<rect x="659.6" y="219.2" width="4.8" height="1.8" fill="#ef5350"/>
<line x1="668.5" y1="217.9" x2="668.5" y2="224.7" stroke="#26a69a" stroke-width="1.1"/>
<rect x="666.1" y="218.4" width="4.8" height="2.6" fill="#26a69a"/>
<line x1="675.0" y1="217.5" x2="675.0" y2="224.0" stroke="#ef5350" stroke-width="1.1"/>
<rect x="672.6" y="218.4" width="4.8" height="3.2" fill="#ef5350"/>
<line x1="681.5" y1="215.7" x2="681.5" y2="240.4" stroke="#ef5350" stroke-width="1.1"/>
<rect x="679.1" y="221.6" width="4.8" height="15.1" fill="#ef5350"/>
<line x1="687.9" y1="226.6" x2="687.9" y2="240.6" stroke="#26a69a" stroke-width="1.1"/>
<rect x="685.5" y="229.1" width="4.8" height="7.6" fill="#26a69a"/>
<line x1="694.4" y1="226.6" x2="694.4" y2="233.3" stroke="#26a69a" stroke-width="1.1"/>
<rect x="692.0" y="228.7" width="4.8" height="1.0" fill="#26a69a"/>
<line x1="700.9" y1="194.2" x2="700.9" y2="229.1" stroke="#26a69a" stroke-width="1.1"/>
<rect x="698.5" y="197.9" width="4.8" height="30.8" fill="#26a69a"/>
<line x1="707.4" y1="191.1" x2="707.4" y2="201.5" stroke="#26a69a" stroke-width="1.1"/>
<rect x="705.0" y="193.5" width="4.8" height="4.4" fill="#26a69a"/>
<line x1="713.9" y1="190.3" x2="713.9" y2="198.0" stroke="#26a69a" stroke-width="1.1"/>
<rect x="711.5" y="190.8" width="4.8" height="2.7" fill="#26a69a"/>
<line x1="720.3" y1="180.8" x2="720.3" y2="195.1" stroke="#26a69a" stroke-width="1.1"/>
<rect x="717.9" y="182.2" width="4.8" height="8.6" fill="#26a69a"/>
<line x1="726.8" y1="176.1" x2="726.8" y2="220.5" stroke="#ef5350" stroke-width="1.1"/>
<rect x="724.4" y="182.2" width="4.8" height="33.7" fill="#ef5350"/>
<line x1="733.3" y1="210.2" x2="733.3" y2="224.1" stroke="#26a69a" stroke-width="1.1"/>
<rect x="730.9" y="214.9" width="4.8" height="1.0" fill="#26a69a"/>
<line x1="739.8" y1="213.4" x2="739.8" y2="226.0" stroke="#ef5350" stroke-width="1.1"/>
<rect x="737.4" y="214.9" width="4.8" height="8.0" fill="#ef5350"/>
<line x1="746.2" y1="220.1" x2="746.2" y2="228.7" stroke="#26a69a" stroke-width="1.1"/>
<rect x="743.8" y="221.4" width="4.8" height="1.5" fill="#26a69a"/>
<line x1="752.7" y1="215.5" x2="752.7" y2="222.2" stroke="#26a69a" stroke-width="1.1"/>
<rect x="750.3" y="216.7" width="4.8" height="4.7" fill="#26a69a"/>
<line x1="759.2" y1="216.6" x2="759.2" y2="228.4" stroke="#ef5350" stroke-width="1.1"/>
<rect x="756.8" y="216.7" width="4.8" height="10.4" fill="#ef5350"/>
<line x1="765.7" y1="223.1" x2="765.7" y2="244.7" stroke="#26a69a" stroke-width="1.1"/>
<rect x="763.3" y="225.3" width="4.8" height="1.8" fill="#26a69a"/>
<line x1="772.1" y1="223.8" x2="772.1" y2="237.9" stroke="#ef5350" stroke-width="1.1"/>
<rect x="769.7" y="225.3" width="4.8" height="10.1" fill="#ef5350"/>
<line x1="778.6" y1="219.0" x2="778.6" y2="246.6" stroke="#ef5350" stroke-width="1.1"/>
<rect x="776.2" y="235.5" width="4.8" height="6.2" fill="#ef5350"/>
<line x1="785.1" y1="225.2" x2="785.1" y2="243.2" stroke="#26a69a" stroke-width="1.1"/>
<rect x="782.7" y="227.5" width="4.8" height="14.2" fill="#26a69a"/>
<line x1="791.6" y1="226.0" x2="791.6" y2="240.6" stroke="#ef5350" stroke-width="1.1"/>
<rect x="789.2" y="227.5" width="4.8" height="1.7" fill="#ef5350"/>
<line x1="798.1" y1="228.7" x2="798.1" y2="236.4" stroke="#ef5350" stroke-width="1.1"/>
<rect x="795.7" y="229.1" width="4.8" height="5.6" fill="#ef5350"/>
<line x1="804.5" y1="230.8" x2="804.5" y2="239.1" stroke="#ef5350" stroke-width="1.1"/>
<rect x="802.1" y="234.7" width="4.8" height="1.8" fill="#ef5350"/>
<line x1="811.0" y1="228.7" x2="811.0" y2="238.3" stroke="#26a69a" stroke-width="1.1"/>
<rect x="808.6" y="230.0" width="4.8" height="6.5" fill="#26a69a"/>
<line x1="817.5" y1="212.5" x2="817.5" y2="236.2" stroke="#ef5350" stroke-width="1.1"/>
<rect x="815.1" y="230.0" width="4.8" height="2.3" fill="#ef5350"/>
<line x1="824.0" y1="226.3" x2="824.0" y2="241.2" stroke="#26a69a" stroke-width="1.1"/>
<rect x="821.6" y="227.6" width="4.8" height="4.8" fill="#26a69a"/>
</g>
<line x1="874.4" y1="188" x2="951" y2="188" stroke="#1b5e20" stroke-width="2"/>
<text x="877" y="184" font-size="12.6" font-weight="bold" fill="#f23645" textLength="64.8" lengthAdjust="spacingAndGlyphs">Resistance</text>
<line x1="874.4" y1="263" x2="951" y2="263" stroke="#f23645" stroke-width="2"/>
<text x="876" y="256.7" font-size="13" font-weight="bold" fill="#1b5e20" textLength="49" lengthAdjust="spacingAndGlyphs">Support</text>
<g clip-path="url(#cr)">
<line x1="9.7" y1="377.5" x2="950" y2="377.5" stroke="#8c8f97" stroke-width="1.25" stroke-dasharray="4.8 5.8"/>
<line x1="9.7" y1="411.3" x2="950" y2="411.3" stroke="#a9acb5" stroke-width="1.1" stroke-dasharray="4.8 5.8"/>
<line x1="9.7" y1="444.1" x2="950" y2="444.1" stroke="#8c8f97" stroke-width="1.25" stroke-dasharray="4.8 5.8"/>
<polyline points="7.9,438.8 14.3,437.1 20.8,435.9 27.3,434.8 33.8,434.1 40.2,431.9 46.7,429.9 53.2,428.3 59.7,427.3 66.2,426.2 72.6,425.2 79.1,424.6 85.6,422.8 92.1,421.5 98.5,420.6 105.0,419.6 111.5,418.9 118.0,418.8 124.4,419.6 130.9,422.7 137.4,425.9 143.9,428.0 150.4,430.8 156.8,433.2 163.3,436.1 169.8,437.9 176.3,440.6 182.7,443.0 189.2,445.1 195.7,446.5 202.2,447.3 208.6,447.6 215.1,447.4 221.6,446.2 228.1,445.2 234.6,444.5 241.0,443.4 247.5,442.6 254.0,441.6 260.5,441.5 266.9,440.5 273.4,439.7 279.9,438.3 286.4,436.6 292.8,435.1 299.3,433.8 305.8,432.8 312.3,432.3 318.8,432.0 325.2,430.8 331.7,429.2 338.2,427.1 344.7,424.8 351.1,422.8 357.6,420.4 364.1,417.5 370.6,415.1 377.1,413.7 383.5,412.7 390.0,411.9 396.5,410.4 403.0,409.4 409.4,408.1 415.9,406.4 422.4,404.4 428.9,402.7 435.3,401.5 441.8,400.2 448.3,400.3 454.8,401.1 461.3,402.0 467.7,403.0 474.2,403.0 480.7,403.1 487.2,403.1 493.6,401.5 500.1,400.6 506.6,400.4 513.1,400.7 519.5,400.5 526.0,400.2 532.5,399.8 539.0,399.6 545.5,399.4 551.9,399.7 558.4,400.0 564.9,402.8 571.4,404.8 577.8,406.6 584.3,409.1 590.8,410.7 597.3,413.1 603.7,415.2 610.2,418.6 616.7,422.2 623.2,425.9 629.7,428.4 636.1,430.9 642.6,432.5 649.1,433.8 655.6,433.4 662.0,433.4 668.5,433.6 675.0,433.9 681.5,435.0 687.9,435.4 694.4,435.9 700.9,433.3 707.4,430.3 713.9,427.0 720.3,424.1 726.8,422.8 733.3,421.8 739.8,421.2 746.2,420.4 752.7,419.3 759.2,418.9 765.7,418.1 772.1,417.1 778.6,417.1 785.1,416.2 791.6,417.5 798.1,419.3 804.5,421.4 811.0,423.4 817.5,423.6 824.0,423.5" fill="none" stroke="#f9e264" stroke-width="1.6" stroke-linejoin="round"/>
<polyline points="7.9,430.5 14.3,432.1 20.8,435.1 27.3,431.3 33.8,427.5 40.2,410.5 46.7,410.0 53.2,422.4 59.7,417.7 66.2,422.2 72.6,420.8 79.1,420.4 85.6,409.2 92.1,411.0 98.5,417.7 105.0,418.4 111.5,425.3 118.0,429.6 124.4,439.2 130.9,454.1 137.4,455.0 143.9,450.9 150.4,457.1 156.8,456.5 163.3,460.3 169.8,446.3 176.3,446.3 182.7,444.9 189.2,447.8 195.7,437.4 202.2,436.3 208.6,433.9 215.1,436.3 221.6,437.9 228.1,440.3 234.6,441.2 241.0,442.2 247.5,445.9 254.0,446.0 260.5,445.1 266.9,432.5 273.4,432.8 279.9,427.8 286.4,414.7 292.8,415.1 299.3,414.9 305.8,422.9 312.3,431.1 318.8,436.1 325.2,424.2 331.7,420.0 338.2,417.0 344.7,412.6 351.1,417.1 357.6,399.7 364.1,392.0 370.6,394.0 377.1,395.0 383.5,400.9 390.0,403.8 396.5,402.4 403.0,417.4 409.4,417.9 415.9,399.8 422.4,392.5 428.9,393.4 435.3,395.2 441.8,399.6 448.3,400.0 454.8,403.9 461.3,406.2 467.7,409.0 474.2,400.4 480.7,405.7 487.2,402.8 493.6,395.3 500.1,405.2 506.6,396.1 513.1,396.4 519.5,391.5 526.0,391.1 532.5,393.6 539.0,397.2 545.5,401.6 551.9,410.3 558.4,412.6 564.9,439.2 571.4,434.3 577.8,428.4 584.3,429.7 590.8,427.7 597.3,429.4 603.7,425.9 610.2,439.6 616.7,441.3 623.2,445.4 629.7,432.3 636.1,436.9 642.6,432.5 649.1,431.1 655.6,433.1 662.0,434.4 668.5,431.0 675.0,433.5 681.5,444.0 687.9,434.1 694.4,433.5 700.9,403.1 707.4,399.9 713.9,398.0 720.3,392.0 726.8,419.0 733.3,418.3 739.8,423.4 746.2,422.1 752.7,418.0 759.2,425.1 765.7,423.4 772.1,430.1 778.6,433.8 785.1,420.4 791.6,421.6 798.1,425.5 804.5,426.7 811.0,420.2 817.5,422.0 824.0,417.1" fill="none" stroke="#9575cd" stroke-width="1.3" stroke-linejoin="round"/>
</g>
<text x="9.3" y="18.1" font-size="11.5" fill="#2a2e39" textLength="31.2" lengthAdjust="spacingAndGlyphs">shyna</text>
<text x="44.9" y="18.1" font-size="11.5" fill="#2a2e39" textLength="49.1" lengthAdjust="spacingAndGlyphs">published</text>
<text x="98.7" y="18.1" font-size="11.5" fill="#2a2e39" textLength="11.9" lengthAdjust="spacingAndGlyphs">on</text>
<text x="115.6" y="18.1" font-size="11.5" fill="#2a2e39" textLength="91.0" lengthAdjust="spacingAndGlyphs">TradingView.com,</text>
<text x="212.6" y="18.1" font-size="11.5" fill="#2a2e39" textLength="18.6" lengthAdjust="spacingAndGlyphs">Sep</text>
<text x="236.5" y="18.1" font-size="11.5" fill="#2a2e39" textLength="15.3" lengthAdjust="spacingAndGlyphs">28,</text>
<text x="257.5" y="18.1" font-size="11.5" fill="#2a2e39" textLength="22.5" lengthAdjust="spacingAndGlyphs">2022</text>
<text x="283.4" y="18.1" font-size="11.5" fill="#2a2e39" textLength="28.9" lengthAdjust="spacingAndGlyphs">14:58</text>
<text x="315.6" y="18.1" font-size="11.5" fill="#2a2e39" textLength="16.6" lengthAdjust="spacingAndGlyphs">UTC</text>
<text x="17.6" y="44.4" font-size="11.2" fill="#2a2e39" textLength="36.6" lengthAdjust="spacingAndGlyphs">Bitcoin</text>
<text x="59.8" y="44.4" font-size="11.2" fill="#2a2e39" textLength="3.3" lengthAdjust="spacingAndGlyphs">/</text>
<text x="68.8" y="44.4" font-size="11.2" fill="#2a2e39" textLength="19.2" lengthAdjust="spacingAndGlyphs">U.S.</text>
<text x="94.7" y="44.4" font-size="11.2" fill="#2a2e39" textLength="30.5" lengthAdjust="spacingAndGlyphs">Dollar,</text>
<text x="130.6" y="44.4" font-size="11.2" fill="#2a2e39" textLength="13.3" lengthAdjust="spacingAndGlyphs">1D,</text>
<text x="148.5" y="44.4" font-size="11.2" fill="#2a2e39" textLength="50.8" lengthAdjust="spacingAndGlyphs">COINBASE</text>
<text x="208.9" y="44.3" font-size="11.2" fill="#2a2e39" textLength="7.5" lengthAdjust="spacingAndGlyphs">O</text>
<text x="217.9" y="44.3" font-size="11.2" fill="#26a69a" textLength="42.4" lengthAdjust="spacingAndGlyphs">19077.56</text>
<text x="269.7" y="44.3" font-size="11.2" fill="#2a2e39" textLength="6.2" lengthAdjust="spacingAndGlyphs">H</text>
<text x="277.3" y="44.3" font-size="11.2" fill="#26a69a" textLength="42.6" lengthAdjust="spacingAndGlyphs">19475.66</text>
<text x="329.3" y="44.3" font-size="11.2" fill="#2a2e39" textLength="4.5" lengthAdjust="spacingAndGlyphs">L</text>
<text x="335.5" y="44.3" font-size="11.2" fill="#26a69a" textLength="42.6" lengthAdjust="spacingAndGlyphs">18487.00</text>
<text x="385.9" y="44.3" font-size="11.2" fill="#2a2e39" textLength="6.8" lengthAdjust="spacingAndGlyphs">C</text>
<text x="394.3" y="44.3" font-size="11.2" fill="#26a69a" textLength="42.9" lengthAdjust="spacingAndGlyphs">19393.79</text>
<text x="445.4" y="44.3" font-size="11.2" fill="#26a69a" textLength="37.7" lengthAdjust="spacingAndGlyphs">+316.22</text>
<text x="488.4" y="44.3" font-size="11.2" fill="#26a69a" textLength="41.0" lengthAdjust="spacingAndGlyphs">(+1.66%)</text>
<text x="17.6" y="60.5" font-size="11.2" fill="#2a2e39" textLength="13.7" lengthAdjust="spacingAndGlyphs">Vol</text>
<text x="40.0" y="60.5" font-size="11.2" fill="#26a69a" textLength="39.0" lengthAdjust="spacingAndGlyphs">31.005K</text>
<text x="17.6" y="76.7" font-size="11.2" fill="#2a2e39" textLength="13.7" lengthAdjust="spacingAndGlyphs">Vol</text>
<text x="40.0" y="76.7" font-size="11.2" fill="#26a69a" textLength="39.0" lengthAdjust="spacingAndGlyphs">31.005K</text>
<text x="17.6" y="94.2" font-size="11.2" fill="#2a2e39" textLength="87.9" lengthAdjust="spacingAndGlyphs">MA (21, close, 0)</text>
<text x="115.2" y="94.2" font-size="11.2" fill="#2e6b2e" textLength="42.0" lengthAdjust="spacingAndGlyphs">19857.57</text>
<text x="17.6" y="110.3" font-size="11.2" fill="#2a2e39" textLength="82.0" lengthAdjust="spacingAndGlyphs">MA (9, close, 0)</text>
<text x="108.4" y="110.3" font-size="11.2" fill="#f23645" textLength="43.0" lengthAdjust="spacingAndGlyphs">19050.89</text>
<text x="17.6" y="369.6" font-size="11.2" fill="#2a2e39" textLength="137.0" lengthAdjust="spacingAndGlyphs">RSI (14, close, SMA, 14, 2)</text>
<text x="162.0" y="369.6" font-size="11.2" fill="#9575cd" textLength="26.5" lengthAdjust="spacingAndGlyphs">46.22</text>
<text x="196.5" y="369.6" font-size="11.2" fill="#fbe77a" textLength="27.0" lengthAdjust="spacingAndGlyphs">42.34</text>
<text x="231.4" y="369.6" font-size="10.6" fill="#131722" textLength="7.1" lengthAdjust="spacingAndGlyphs" font-weight="bold">&#216;</text>
<text x="247.4" y="369.6" font-size="10.6" fill="#131722" textLength="7.1" lengthAdjust="spacingAndGlyphs" font-weight="bold">&#216;</text>
<text x="960.7" y="43.0" font-size="11.2" fill="#2a2e39" textLength="20.5" lengthAdjust="spacingAndGlyphs">USD</text>
<text x="960.0" y="71.1" font-size="11.2" fill="#2a2e39" textLength="44.0" lengthAdjust="spacingAndGlyphs">30000.00</text>
<text x="960.0" y="101.2" font-size="11.2" fill="#2a2e39" textLength="44.0" lengthAdjust="spacingAndGlyphs">28000.00</text>
<text x="960.0" y="131.3" font-size="11.2" fill="#2a2e39" textLength="44.0" lengthAdjust="spacingAndGlyphs">26000.00</text>
<text x="960.0" y="161.3" font-size="11.2" fill="#2a2e39" textLength="44.0" lengthAdjust="spacingAndGlyphs">24000.00</text>
<text x="960.0" y="311.7" font-size="11.2" fill="#2a2e39" textLength="44.0" lengthAdjust="spacingAndGlyphs">14000.00</text>
<text x="960.0" y="341.8" font-size="11.2" fill="#2a2e39" textLength="44.0" lengthAdjust="spacingAndGlyphs">12000.00</text>
<text x="960.0" y="282.5" font-size="11.2" fill="#2a2e39" textLength="44.0" lengthAdjust="spacingAndGlyphs">16000.00</text>
<text x="960.0" y="364.1" font-size="11.2" fill="#2a2e39" textLength="27.0" lengthAdjust="spacingAndGlyphs">80.00</text>
<text x="960.0" y="397.8" font-size="11.2" fill="#2a2e39" textLength="27.0" lengthAdjust="spacingAndGlyphs">60.00</text>
<text x="960.0" y="430.8" font-size="11.2" fill="#2a2e39" textLength="27.0" lengthAdjust="spacingAndGlyphs">40.00</text>
<path d="M951 180.5 H1008.5 Q1010.5 180.5 1010.5 182.5 V194.5 Q1010.5 196.5 1008.5 196.5 H951 Z" fill="#1b5e20"/>
<text x="960.0" y="192.4" font-size="11.2" fill="#fff" textLength="44.0" lengthAdjust="spacingAndGlyphs">22000.00</text>
<path d="M951 203 H1008.5 Q1010.5 203 1010.5 205 V217 Q1010.5 219 1008.5 219 H951 Z" fill="#d3e8d0"/>
<text x="960.0" y="214.9" font-size="11.2" fill="#131722" textLength="44.0" lengthAdjust="spacingAndGlyphs">19481.56</text>
<path d="M951 219 H1008.5 Q1010.5 219 1010.5 221 V246.8 Q1010.5 248.8 1008.5 248.8 H951 Z" fill="#26a69a"/>
<text x="960.0" y="230.6" font-size="11.2" fill="#fff" textLength="44.0" lengthAdjust="spacingAndGlyphs">19393.79</text>
<text x="960.0" y="244.6" font-size="11.2" fill="#d6efec" textLength="42.0" lengthAdjust="spacingAndGlyphs">09:01:50</text>
<path d="M951 248.8 H1008.5 Q1010.5 248.8 1010.5 250.8 V263.4 Q1010.5 265.4 1008.5 265.4 H951 Z" fill="#d3e8d0"/>
<text x="960.0" y="260.7" font-size="11.2" fill="#131722" textLength="44.0" lengthAdjust="spacingAndGlyphs">18521.33</text>
<path d="M951 265.4 H1008.5 Q1010.5 265.4 1010.5 267.4 V279.3 Q1010.5 281.3 1008.5 281.3 H951 Z" fill="#f23645"/>
<text x="960.0" y="277.1" font-size="11.2" fill="#fff" textLength="44.0" lengthAdjust="spacingAndGlyphs">17000.00</text>
<text x="43.4" y="474.6" font-size="11.4" fill="#131722" textLength="18.6" lengthAdjust="spacingAndGlyphs" font-weight="bold">Jun</text>
<text x="124.8" y="474.6" font-size="11.2" fill="#2a2e39" textLength="10.4" lengthAdjust="spacingAndGlyphs">13</text>
<text x="239.5" y="474.6" font-size="11.4" fill="#131722" textLength="16.0" lengthAdjust="spacingAndGlyphs" font-weight="bold">Jul</text>
<text x="352.0" y="474.6" font-size="11.2" fill="#2a2e39" textLength="10.2" lengthAdjust="spacingAndGlyphs">18</text>
<text x="437.9" y="474.6" font-size="11.4" fill="#131722" textLength="19.5" lengthAdjust="spacingAndGlyphs" font-weight="bold">Aug</text>
<text x="532.8" y="474.6" font-size="11.2" fill="#2a2e39" textLength="10.6" lengthAdjust="spacingAndGlyphs">15</text>
<text x="637.9" y="474.6" font-size="11.4" fill="#131722" textLength="19.3" lengthAdjust="spacingAndGlyphs" font-weight="bold">Sep</text>
<text x="759.7" y="474.6" font-size="11.2" fill="#2a2e39" textLength="10.3" lengthAdjust="spacingAndGlyphs">19</text>
<text x="832.9" y="474.6" font-size="11.4" fill="#131722" textLength="17.8" lengthAdjust="spacingAndGlyphs" font-weight="bold">Oct</text>
<text x="940.6" y="474.6" font-size="11.2" fill="#2a2e39" textLength="10.2" lengthAdjust="spacingAndGlyphs">17</text>
<g fill="#1e222d"><path d="M9.8 496 H17.2 V505 H13.6 V499.6 H9.8 Z"/><circle cx="19.5" cy="497.6" r="1.6"/><path d="M22.1 496 H28.3 L24.5 505 H19.8 Z"/></g>
<text x="32.0" y="505.2" font-size="12.3" fill="#2a2e39" textLength="68.0" lengthAdjust="spacingAndGlyphs">TradingView</text>
</svg>
</body></html>
